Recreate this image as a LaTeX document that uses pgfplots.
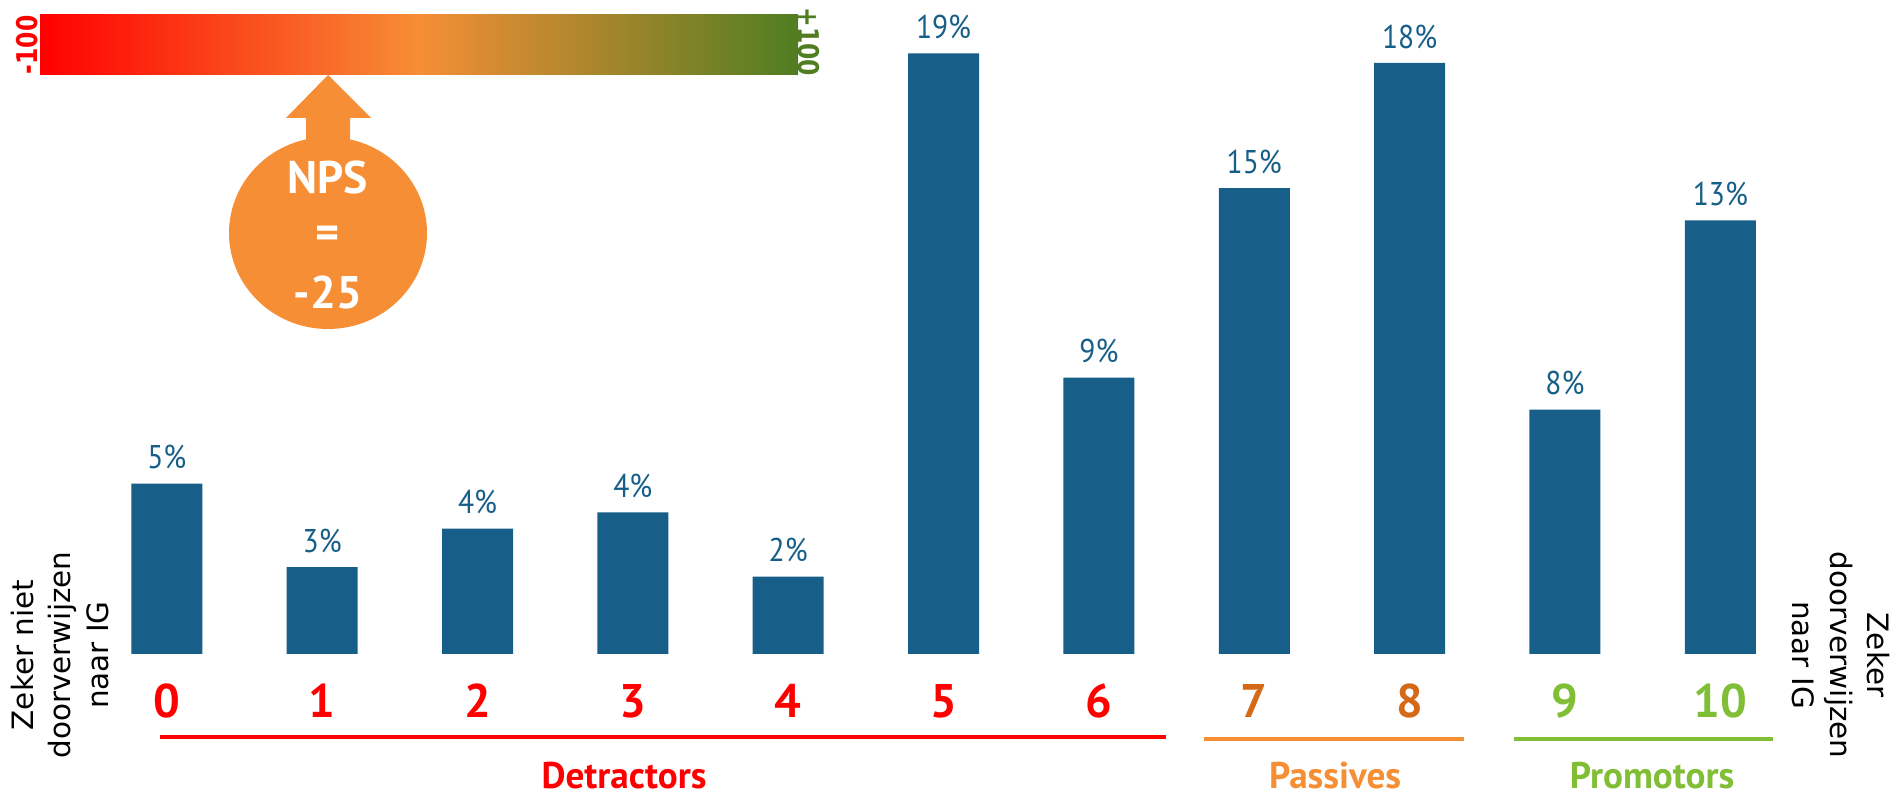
\documentclass[border=0pt]{standalone}
\usepackage{pgfplots}
\pgfplotsset{compat=1.18}
\usepackage{pgfplotstable}
\usepackage{fontspec}
\setmainfont{PT Sans}
\newfontfamily\ptcond[FakeStretch=0.9]{PT Sans}
\newfontfamily\dejavu{DejaVu Sans}
\newfontfamily\dejaboldcond[FakeStretch=0.82]{DejaVu Sans Bold}
\definecolor{barblue}{RGB}{23,94,136}
\definecolor{detred}{RGB}{255,0,0}
\definecolor{pasdark}{RGB}{212,106,24}
\definecolor{pasorange}{RGB}{246,142,51}
\definecolor{promgreen}{RGB}{128,190,54}
\definecolor{npsorange}{RGB}{246,142,54}
\definecolor{gradgreen}{RGB}{80,125,34}

\pgfplotstableread{
x val lab
0 5.3 5
1 2.7 3
2 3.9 4
3 4.4 4
4 2.4 2
5 18.7 19
6 8.6 9
7 14.5 15
8 18.4 18
9 7.6 8
10 13.5 13
}\npsdata

\begin{document}
\begin{tikzpicture}
\begin{axis}[
  at={(0,0)}, anchor=south west,
  scale only axis,
  width=663.25pt, height=278.6pt,
  xmin=-1.0737, xmax=11.1246,
  ymin=-4.43, ymax=20.36,
  axis lines=none,
  clip=false,
  ybar, bar width=0.457,
  point meta=explicit symbolic,
  nodes near coords={\pgfplotspointmeta\%},
  every node near coord/.append style={font=\ptcond\fontsize{11.5}{13}\selectfont, text=barblue, yshift=1.5pt},
]
\addplot[fill=barblue, draw=none] table[x=x, y=val, meta=lab] {\npsdata};
\end{axis}

\begin{scope}[x=0.35pt, y=-0.35pt, shift={(0,278.6pt)}]
  % gradient scale
  \shade[left color=detred, right color=gradgreen, middle color=npsorange] (40,14.5) rectangle (798,75);
  \node[rotate=90, text=detred, font=\dejaboldcond\fontsize{10}{12}\selectfont] at (27,45) {-100};
  \node[rotate=-90, text=gradgreen, font=\dejaboldcond\fontsize{10}{12}\selectfont] at (809,42) {+100};
  % NPS arrow + ellipse
  \fill[npsorange] (328,233) ellipse [x radius=99, y radius=96];
  \fill[npsorange] (328,75) -- (371,118) -- (350,118) -- (350,150) -- (306,150) -- (306,118) -- (286,118) -- cycle;
  \node[text=white, font=\bfseries\fontsize{16}{18}\selectfont] at (328,178) {NPS};
  \node[text=white, font=\bfseries\fontsize{16}{18}\selectfont] at (328,237) {=};
  \node[text=white, font=\bfseries\fontsize{16}{18}\selectfont] at (328,292) {-25};
  % score digits
  \foreach \i/\xx/\cc in {0/166.8/detred,1/322.2/detred,2/477.5/detred,3/632.9/detred,4/788.2/detred,5/943.6/detred,6/1098.9/detred,7/1254.3/pasdark,8/1409.6/pasdark,9/1565.0/promgreen,10/1720.3/promgreen}
    \node[text=\cc, font=\bfseries\fontsize{16.5}{18}\selectfont] at (\xx,701) {\i};
  % group lines
  \draw[detred, line width=1.45pt] (160,737) -- (1166,737);
  \draw[pasorange, line width=1.45pt] (1204,739) -- (1464,739);
  \draw[promgreen, line width=1.45pt] (1514,739) -- (1773,739);
  \node[text=detred, font=\bfseries\fontsize{13}{15}\selectfont] at (624,776) {Detractors};
  \node[text=pasorange, font=\bfseries\fontsize{13}{15}\selectfont] at (1335,776) {Passives};
  \node[text=promgreen, font=\bfseries\fontsize{13}{15}\selectfont] at (1652,776) {Promotors};
  % side texts
  \node[rotate=90, align=center, font=\dejavu\fontsize{10.3}{13.2}\selectfont] at (60,655) {Zeker niet\\doorverwijzen\\naar IG};
  \node[rotate=-90, align=center, font=\dejavu\fontsize{10.3}{13.2}\selectfont] at (1841,655) {Zeker\\doorverwijzen\\naar IG};
\end{scope}
\pgfresetboundingbox
\useasboundingbox (0,0) rectangle (663.25pt,278.6pt);
\end{tikzpicture}
\end{document}
